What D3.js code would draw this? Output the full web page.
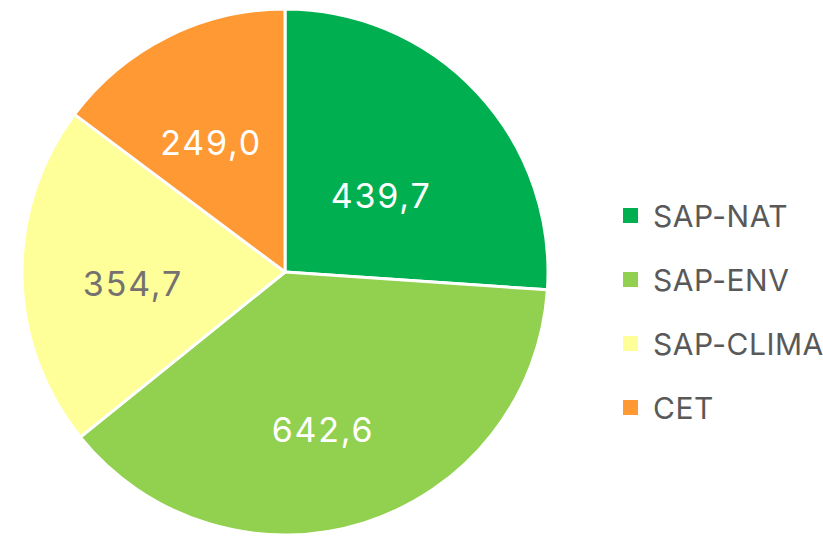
<!DOCTYPE html>
<html><head><meta charset="utf-8">
<script src="https://cdn.jsdelivr.net/npm/d3@7"></script>
<style>html,body{margin:0;padding:0;background:#fff;}svg{display:block;font-family:Inter,Roboto,"Noto Sans",sans-serif;}</style>
</head><body><svg id="c" width="823" height="536"></svg>
<script>
const categories = ["SAP-NAT", "SAP-ENV", "SAP-CLIMA", "CET"];
const values = [439.7, 642.6, 354.7, 249.0];
const labels = ["439,7", "642,6", "354,7", "249,0"];
const colors = ["#00b050", "#92d050", "#ffff99", "#ff9933"];
const labelColors = ["#ffffff", "#ffffff", "#767171", "#ffffff"];
// layout of value labels (fraction of radius, angle shift in degrees)
const labelRadius = [0.463, 0.617, 0.584, 0.567];
const labelShift = [4.4, 4.3, -3.5, -3.6];

const svg = d3.select("#c");
const cx = 285, cy = 272, R = 263;
const data = categories.map((c, i) => ({c, v: values[i], i}));
const pie = d3.pie().sort(null).value(d => d.v);
const arcs = pie(data);
const arc = d3.arc().innerRadius(0).outerRadius(R);
const g = svg.append("g").attr("transform", `translate(${cx},${cy})`);
g.selectAll("path").data(arcs).join("path")
  .attr("d", arc).attr("fill", d => colors[d.data.i])
  .attr("stroke", "#fff").attr("stroke-width", 3).attr("stroke-linejoin", "round");
g.selectAll("text").data(arcs).join("text")
  .attr("transform", d => {
    const r = R * labelRadius[d.data.i];
    const a = (d.startAngle + d.endAngle) / 2 + labelShift[d.data.i] * Math.PI / 180;
    return `translate(${r * Math.sin(a) + 1},${-r * Math.cos(a)})`;
  })
  .attr("text-anchor", "middle").attr("dy", "0.36em")
  .attr("font-size", 34).attr("letter-spacing", 1.8).attr("fill", d => labelColors[d.data.i])
  .text(d => labels[d.data.i]);

const leg = svg.append("g").attr("transform", "translate(623,216)");
const y = d3.scaleBand().domain(categories).range([0, 256]);
const item = leg.selectAll("g").data(categories).join("g")
  .attr("transform", c => `translate(0,${y(c)})`);
item.append("rect").attr("x", 0).attr("y", -8).attr("width", 15).attr("height", 15)
  .attr("fill", (c, i) => colors[i]);
item.append("text").attr("x", 30).attr("dy", "0.36em").attr("font-size", 30).attr("letter-spacing", 0.5)
  .attr("fill", "#595959").text(c => c);
</script></body></html>
